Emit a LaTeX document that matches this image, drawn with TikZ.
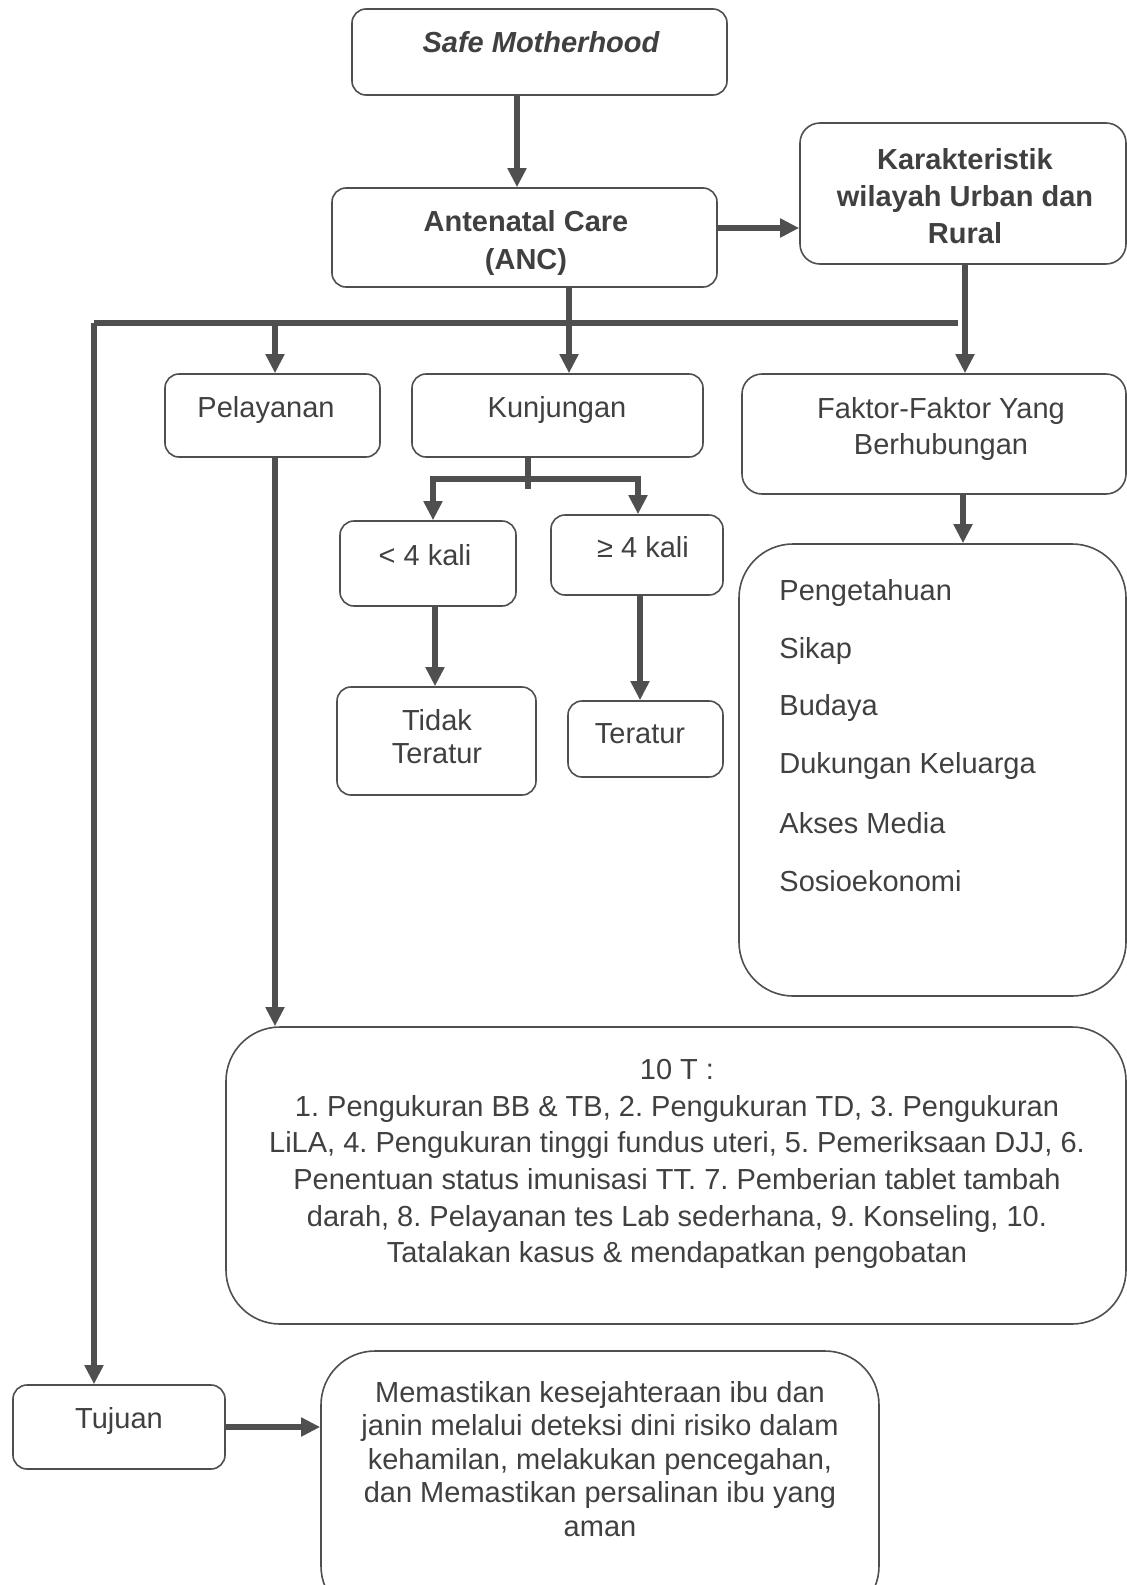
\documentclass[tikz,border=0pt]{standalone}
\usepackage{fontspec}
\setmainfont{Liberation Sans}
\usetikzlibrary{arrows.meta,fit}
\definecolor{linegray}{HTML}{4F4F4F}
\definecolor{textgray}{HTML}{404040}
\frenchspacing
\begin{document}
\begin{tikzpicture}[x=0.5pt,y=-0.5pt,
	box/.style={draw=linegray, line width=0.8pt, rounded corners=7pt, inner sep=0pt},
	bigbox/.style={box, rounded corners=27pt},
	ln/.style={draw=linegray, line width=2.7pt},
	arr/.style={ln, -{Triangle[length=9.5pt,width=9pt]}},
	txt/.style={text=textgray, font=\fontsize{14.5}{18.3}\selectfont, align=center, inner sep=0pt},
	btxt/.style={txt, font=\fontsize{14.5}{18.5}\selectfont\bfseries}]
		\clip (0,0) rectangle (1127,1585);
		
		\node[box, fit={(352,9) (727,95)}] (safe) {};
		\node[box, fit={(332,188) (717,287)}] (anc) {};
		\node[box, rounded corners=10pt, fit={(800,123) (1126,264)}] (kar) {};
		\node[box, fit={(165,374) (380,457)}] (pel) {};
		\node[box, fit={(412,374) (703,457)}] (kun) {};
		\node[box, rounded corners=10pt, fit={(742,374) (1126,494)}] (fak) {};
		\node[box, fit={(340,521) (516,606)}] (lt4) {};
		\node[box, fit={(551,515) (723,595)}] (ge4) {};
		\node[box, fit={(337,687) (536,795)}] (tidak) {};
		\node[box, fit={(568,701) (723,777)}] (teratur) {};
		\node[bigbox, fit={(739,544) (1126,996)}] (faklist) {};
		\node[bigbox, fit={(226,1027) (1126,1324)}] (tent) {};
		\node[box, fit={(13,1385) (225,1469)}] (tujuan) {};
		\node[bigbox, fit={(321,1351) (879,1620)}] (mem) {};
		
		\node[txt, font=\fontsize{14.5}{18.3}\selectfont\bfseries\itshape] at (541,42) (tsafe) {Safe Motherhood};
		\node[btxt] at (526,243) (tanc) {Antenatal Care\\[0.5pt](ANC)};
		\node[btxt] at (965,196) (tkar) {Karakteristik\\wilayah Urban dan\\Rural};
		\node[txt] at (266,410) (tpel) {Pelayanan};
		\node[txt] at (557,410) (tkun) {Kunjungan};
		\node[txt] at (941,429) (tfak) {Faktor-Faktor Yang\\Berhubungan};
		\node[txt] at (425,555) (tlt4) {< 4 kali};
		\node[txt] at (643,547) (tge4) {≥ 4 kali};
		\node[txt] at (437,737) (ttidak) {Tidak\\[-1.8pt]Teratur};
		\node[txt] at (640,734) (tteratur) {Teratur};
		\foreach \t [count=\i] in {Pengetahuan, Sikap, Budaya, Dukungan Keluarga, Akses Media, Sosioekonomi}
			\node[txt, anchor=west] at (779,535.4+57.6*\i) (f\i) {\t};
		\node[txt] at (677,1164) (ttent) {10 T :\\
			1. Pengukuran BB \& TB, 2. Pengukuran TD, 3. Pengukuran\\
			LiLA, 4. Pengukuran tinggi fundus uteri, 5. Pemeriksaan DJJ, 6.\\
			Penentuan status imunisasi TT. 7. Pemberian tablet tambah\\
			darah, 8. Pelayanan tes Lab sederhana, 9. Konseling, 10.\\
			Tatalakan kasus \& mendapatkan pengobatan};
		\node[txt] at (119,1421) (ttujuan) {Tujuan};
		\node[txt, font=\fontsize{14.5}{16.75}\selectfont] at (600,1459) (tmem) {Memastikan kesejahteraan ibu dan\\
			janin melalui deteksi dini risiko dalam\\
			kehamilan, melakukan pencegahan,\\
			dan Memastikan persalinan ibu yang\\
			aman};
		
		\coordinate (busL) at (94,323);
		\coordinate (busR) at (958,323);
		\coordinate (split) at (528,479);
		
		\draw[arr] (517,0 |- safe.south) -- (517,0 |- anc.north);
		\draw[arr] (anc.east |- 0,228) -- (kar.west |- 0,228);
		\draw[ln] (busR) -- (busL);
		\draw[arr] (busL) -- (busL |- tujuan.north);
		\draw[arr] (275,0 |- busL) -- (275,0 |- pel.north);
		\draw[arr] (569,0 |- anc.south) -- (569,0 |- kun.north);
		\draw[arr] (965,0 |- kar.south) -- (965,0 |- fak.north);
		\draw[arr] (275,0 |- pel.south) -- (275,0 |- tent.north);
		\draw[ln] (528,0 |- kun.south) -- (528,489);
		\draw[arr] (split) -| (433,0 |- lt4.north);
		\draw[arr] (split) -| (638,0 |- ge4.north);
		\draw[arr] (435,0 |- lt4.south) -- (435,0 |- tidak.north);
		\draw[arr] (640,0 |- ge4.south) -- (640,0 |- teratur.north);
		\draw[arr] (963,0 |- fak.south) -- (963,0 |- faklist.north);
		\draw[arr] (tujuan.east) -- (tujuan.east -| mem.west);
\end{tikzpicture}
\end{document}
